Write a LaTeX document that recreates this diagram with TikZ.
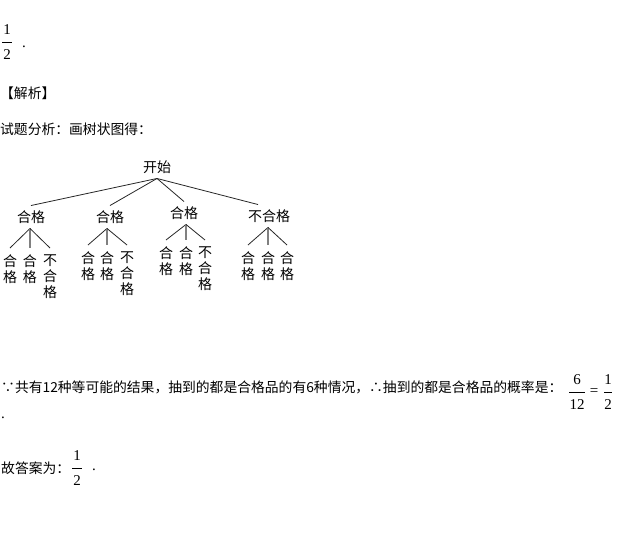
\documentclass[tikz,border=0pt]{standalone}
\usepackage{fontspec}
\setmainfont{Liberation Serif}
\newfontfamily\cjk{Noto Sans CJK SC}
\usetikzlibrary{positioning}

\begin{document}
\begin{tikzpicture}[x=1pt,y=-1pt,
    txt/.style={font=\cjk\fontsize{13.8}{16}\selectfont,inner sep=0pt,anchor=west},
    num/.style={font=\fontsize{15}{15}\selectfont,inner sep=0pt},
    lab/.style={font=\cjk\fontsize{14}{16}\selectfont,inner sep=0pt,outer ysep=5pt},
    leaf/.style={font=\cjk\fontsize{14}{16}\selectfont,inner sep=0pt,outer ysep=7pt,align=center,anchor=north},
    branch/.style={black!85,line width=0.8pt}]

      \useasboundingbox (0,0) rectangle (630,533);

      % fractions
      \foreach \i/\x/\a/\b/\yt/\w in {
        t/7/1/2/30/5,
        r/577/6/12/380/8,
        s/608/1/2/380/4,
        b/77/1/2/456/5}
      {
        \node[num] (n\i) at (\x,\yt) {\a};
        \node[num] (d\i) at (\x,\yt+25) {\b};
        \draw[line width=0.7pt] (\x-\w,\yt+12.5) -- (\x+\w,\yt+12.5);
      }

      % text lines
      \node[num] (dot1) at (24,47) {.};
      \node[txt] (jx) at (0,93) {【解析】};
      \node[txt] (fx) at (0,129) {试题分析：画树状图得：};
      \node[txt] (res) at (1,387) {∵共有12种等可能的结果，抽到的都是合格品的有6种情况，∴抽到的都是合格品的概率是：};
      \node[num] (eq) at (594,392) {=};
      \node[num] (dot2) at (3,418) {.};
      \node[txt] (gd) at (1,468) {故答案为：};
      \node[num] (dot3) at (94,470) {.};

      % tree
      \node[lab] (root) at (157,167) {开始};
      \node[lab] (c1) at (31,217) {合格};
      \node[lab] (c2) at (110,217) {合格};
      \node[lab] (c3) at (184,213) {合格};
      \node[lab] (c4) at (269,216) {不合格};

      \foreach \c in {c1,c2,c3}
        \draw[branch] (root.south) -- (\c.north);
      \draw[branch] (root.south) -- ([xshift=-11pt]c4.north);

      % leaves
      \foreach \c/\y/\xa/\xb/\xc/\t in {
        c1/248/10/30/50/{不\\合\\格},
        c2/245/88/107/127/{不\\合\\格},
        c3/240/166/186/205/{不\\合\\格},
        c4/245/248/268/287/{合\\格}}
      {
        \node[leaf] (\c-a) at (\xa,\y) {合\\格};
        \node[leaf] (\c-b) at (\xb,\y) {合\\格};
        \node[leaf] (\c-c) at (\xc,\y) {\t};
        \coordinate (\c-s) at (\c-b.north |- \c.south);
        \draw[branch] (\c-s) -- (\c-a.north);
        \draw[branch,black!50,line width=1.2pt] (\c-s) -- (\c-b.north);
        \draw[branch] (\c-s) -- (\c-c.north);
      }

    \end{tikzpicture}
\end{document}
